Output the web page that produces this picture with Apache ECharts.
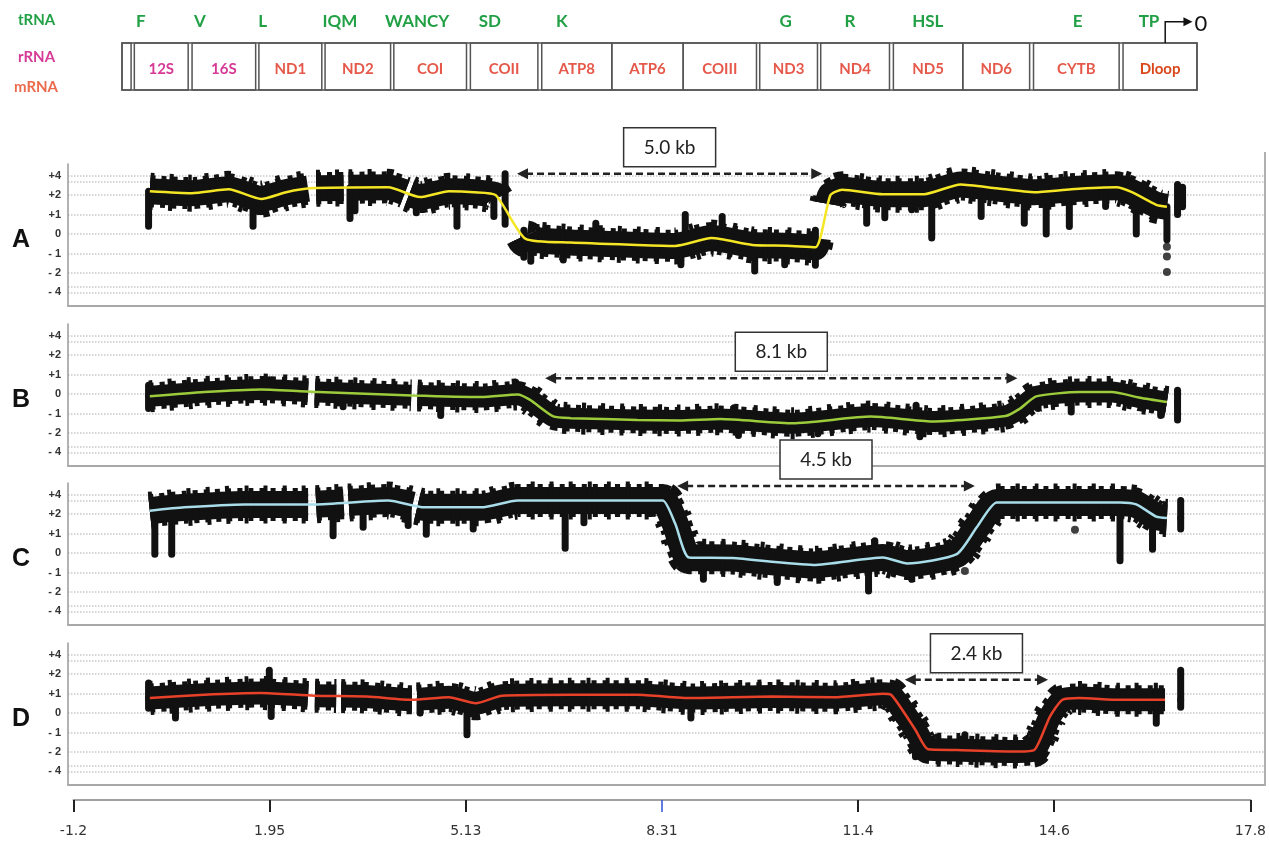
<!DOCTYPE html>
<html>
<head>
<meta charset="utf-8">
<title>mtDNA deletion coverage</title>
<script src="https://cdn.jsdelivr.net/npm/echarts@6/dist/echarts.min.js"></script>
<style>
html, body { margin: 0; padding: 0; background: #fff; }
#chart { width: 1269px; height: 843px; }
</style>
</head>
<body>
<div id="chart"></div>
<script>
// ---- gene map (kb) ----
const geneName = ['', '12S', '16S', 'ND1', 'ND2', 'COI', 'COII', 'ATP8', 'ATP6', 'COIII', 'ND3', 'ND4', 'ND5', 'ND6', 'CYTB', 'Dloop'];
const geneType = ['', 'r', 'r', 'm', 'm', 'm', 'm', 'm', 'm', 'm', 'm', 'm', 'm', 'm', 'm', 'd'];
const geneStart = [0, 0.19, 1.08, 2.11, 3.13, 4.19, 5.37, 6.47, 7.55, 8.65, 9.83, 10.77, 11.89, 12.96, 14.05, 15.43];
const geneEnd = [0.14, 1.02, 2.06, 3.08, 4.14, 5.31, 6.41, 7.55, 8.65, 9.78, 10.72, 11.83, 12.96, 13.99, 15.37, 16.57];
const trnaName = ['F', 'V', 'L', 'IQM', 'WANCY', 'SD', 'K', 'G', 'R', 'HSL', 'E', 'TP'];
const trnaPos = [0.29, 1.2, 2.17, 3.36, 4.55, 5.67, 6.78, 10.23, 11.22, 12.42, 14.73, 15.83];
const promoter = [16.08, 16.5];

// ---- axes ----
const yTickVals = [4, 2, 1, 0, -1, -2, -4];
const yTickText = ['+4', '+2', '+1', '0', '- 1', '- 2', '- 4'];
const yGridVals = [4, 3.4, 2, 1, 0, -1, -2, -3.4, -4];
const xTickVals = [-1.2, 1.967, 5.133, 8.3, 11.467, 14.633, 17.8];
const xTickText = ['-1.2', '1.95', '5.13', '8.31', '11.4', '14.6', '17.8'];

// ---- panel A ----
const aKb = [0.02, 0.69, 1.28, 1.8, 2.2, 2.58, 3.83, 4.34, 4.8, 5.2, 5.55, 6.03, 6.75, 7.81, 8.42, 9.0, 9.65, 10.2, 10.66, 10.9, 11.09, 11.74, 12.4, 12.98, 13.56, 14.16, 14.75, 15.47, 15.72, 16.11, 16.28];
const aVal = [2.4, 2.2, 2.6, 1.8, 2.3, 2.7, 2.8, 1.9, 2.4, 2.3, 2.0, -0.25, -0.44, -0.56, -0.61, -0.21, -0.56, -0.6, -0.68, 2.0, 2.56, 2.1, 2.1, 3.1, 2.7, 2.3, 2.6, 2.8, 2.3, 1.5, 1.4];
const aGaps = [[2.55, 2.68], [3.12, 3.2], [4.1, 4.17], [5.58, 6.0], [10.7, 10.86]];
const aSpikes = [[0.0, 0.4], [1.67, 0.4], [3.22, 0.8], [3.3, 1.2], [4.28, 1.1], [4.93, 0.4], [5.52, 0.9], [5.7, 4.2], [5.7, 0.5],
  [6.0, -1.2], [6.0, 0.2], [6.11, -1.4], [6.63, -1.33], [7.15, 0.56], [8.51, -1.58], [8.58, 1.0], [9.17, 0.9], [9.69, -1.9],
  [10.17, -1.58], [10.66, -1.6], [10.66, 0.2], [11.48, 0.56], [11.77, 0.84], [12.2, 1.25], [12.52, -0.2], [13.31, 0.9],
  [14.0, 0.56], [14.35, 0.0], [14.72, 0.39], [15.3, 1.42], [15.79, 0.0], [16.28, -0.3], [16.45, 3.1], [16.45, 1.0], [16.53, 2.8]];
const aDots = [[16.28, -0.65], [16.28, -1.15], [16.28, -1.95]];

// ---- panel B ----
const bKb = [0.02, 0.89, 1.8, 2.71, 4.21, 5.32, 5.9, 6.1, 6.47, 6.75, 7.81, 8.48, 9.14, 10.3, 11.55, 12.52, 13.7, 13.93, 14.19, 14.88, 15.4, 15.85, 16.28];
const bVal = [-0.12, 0.1, 0.23, 0.1, -0.07, -0.15, -0.02, -0.3, -1.15, -1.24, -1.33, -1.36, -1.29, -1.5, -1.16, -1.41, -1.13, -0.75, -0.12, 0.1, 0.1, -0.19, -0.41];
const bGaps = [[2.55, 2.66], [4.2, 4.3]];
const bSpikes = [[0.0, -0.75], [0.0, 0.45], [1.93, 0.74], [3.11, -0.65], [4.67, -1.1], [5.87, 0.61], [9.36, -0.7], [9.43, -2.26],
  [10.7, -2.08], [12.27, -0.58], [12.33, -2.4], [14.22, -0.75], [14.75, -0.93], [16.18, -1.1], [16.45, -1.33], [16.45, 0.2]];
const bDots = [];

// ---- panel C ----
const cKb = [0.02, 0.57, 1.54, 2.65, 3.83, 4.41, 5.32, 5.9, 7.81, 8.22, 8.42, 8.64, 9.33, 10.63, 11.74, 12.13, 12.92, 13.24, 13.56, 14.21, 15.53, 15.79, 16.11, 16.28];
const cVal = [2.35, 2.7, 3.0, 3.0, 3.4, 2.7, 2.7, 3.4, 3.4, 3.4, 1.5, -0.23, -0.26, -0.61, -0.23, -0.54, -0.06, 1.32, 3.2, 3.2, 3.2, 3.0, 1.87, 1.8];
const cGaps = [[2.55, 2.68], [3.12, 3.2], [4.22, 4.3]];
const cSpikes = [[0.1, -0.06], [0.37, -0.06], [2.95, 0.89], [3.43, 1.32], [4.15, 1.41], [4.44, 0.97], [5.19, 1.23], [6.66, 0.25],
  [6.96, 1.56], [8.87, -1.35], [10.05, -1.52], [11.51, -1.95], [11.61, 0.63], [12.2, -1.35], [15.53, -0.4], [16.05, 0.2],
  [16.5, 1.23], [16.5, 3.4]];
const cDots = [[13.05, -0.92], [14.81, 1.2]];

// ---- panel D ----
const dKb = [0.02, 0.89, 1.8, 2.65, 3.49, 4.21, 4.8, 5.23, 5.65, 6.75, 7.81, 8.67, 9.98, 10.96, 11.74, 11.87, 12.26, 12.46, 12.92, 13.9, 14.16, 14.41, 14.61, 14.88, 15.53, 16.25];
const dVal = [0.77, 0.94, 1.03, 0.89, 0.85, 0.68, 0.81, 0.5, 0.89, 0.94, 0.94, 0.77, 0.85, 0.81, 0.99, 0.94, -0.87, -1.86, -1.9, -1.98, -1.9, -0.18, 0.68, 0.77, 0.68, 0.68];
const dGaps = [[2.55, 2.66], [3.0, 3.08], [4.22, 4.3]];
const dSpikes = [[0.0, 0.25], [0.0, 1.55], [0.43, -0.26], [1.93, 2.4], [1.96, -0.18], [4.34, 0.0], [5.09, -1.12], [8.67, -0.26],
  [12.0, -0.35], [12.26, -2.5], [13.05, -1.12], [14.29, -2.76], [16.11, -0.52], [16.5, 2.4], [16.5, 0.3]];
const dDots = [];

// ---- deletion spans ----
const spanStart = [5.89, 6.34, 8.45, 12.09];
const spanEnd = [10.77, 13.89, 13.21, 14.38];
const spanLevel = [4.2, 0.81, 4.9, 1.71];
const spanText = ['5.0 kb', '8.1 kb', '4.5 kb', '2.4 kb'];

const panels = [
    { letter: 'A', kb: aKb, val: aVal, gaps: aGaps, spikes: aSpikes, dots: aDots, color: '#f5e625', band: 26 },
    { letter: 'B', kb: bKb, val: bVal, gaps: bGaps, spikes: bSpikes, dots: bDots, color: '#9ccc3c', band: 21 },
    { letter: 'C', kb: cKb, val: cVal, gaps: cGaps, spikes: cSpikes, dots: cDots, color: '#a9dde9', band: 27 },
    { letter: 'D', kb: dKb, val: dVal, gaps: dGaps, spikes: dSpikes, dots: dDots, color: '#e8412a', band: 23 }
]
const panelTop = [164, 324, 483, 643]

// labels +4/+2/+1/0/-1/-2/-4 are equally spaced: squash |v|>2
function toAxis(v) {
    const a = Math.abs(v)
    return Math.sign(v) * (a <= 2 ? a : 2 + (a - 2) / 2)
}
function interp(xs, ys, x) {
    if (x <= xs[0]) return ys[0]
    for (let i = 1; i < xs.length; i++) {
        if (x <= xs[i]) {
            const t = (x - xs[i - 1]) / (xs[i] - xs[i - 1])
            return ys[i - 1] + t * (ys[i] - ys[i - 1])
        }
    }
    return ys[ys.length - 1]
}
// thick band broken where reads are missing
function bandLine(xs, ys, gaps) {
    let pts = xs.map((x, i) => [x, ys[i]])
    gaps.forEach(g => {
        pts = pts.filter(p => p[0] < g[0] || p[0] > g[1])
        pts.push([g[0], interp(xs, ys, g[0])], [(g[0] + g[1]) / 2, '-'], [g[1], interp(xs, ys, g[1])])
    })
    pts.sort((p, q) => p[0] - q[0])
    return pts
}

const chart = echarts.init(document.getElementById('chart'))

const grids = [{ left: 122, right: 72, top: 43, height: 47 }]
panelTop.forEach(t => grids.push({ left: 68, right: 4, top: t, height: 142 }))
grids.push({ left: 73.5, right: 7, top: 790, height: 10 })

const xAxes = [{ gridIndex: 0, type: 'value', min: 0, max: 16.57, show: false }]
const yAxes = [{ gridIndex: 0, type: 'value', min: 0, max: 1, show: false }]
const series = []
const graphics = []

// gene map
series.push({
    type: 'custom', xAxisIndex: 0, yAxisIndex: 0, silent: true,
    data: [[0, 16.57]],
    renderItem: (params, api) => {
        const p0 = api.coord([api.value(0), 0]), p1 = api.coord([api.value(1), 1])
        return { type: 'rect', shape: { x: p0[0], y: p1[1], width: p1[0] - p0[0], height: p0[1] - p1[1] },
            style: { fill: 'none', stroke: '#555', lineWidth: 1.5 } }
    }
})
series.push({
    type: 'custom', xAxisIndex: 0, yAxisIndex: 0, silent: true,
    data: geneStart.map((s, i) => [s, geneEnd[i]]),
    renderItem: (params, api) => {
        const i = params.dataIndex
        const p0 = api.coord([api.value(0), 0]), p1 = api.coord([api.value(1), 1])
        const t = geneType[i]
        return { type: 'group', children: [
            { type: 'rect', shape: { x: p0[0], y: p1[1], width: p1[0] - p0[0], height: p0[1] - p1[1] },
                style: { fill: 'none', stroke: '#555', lineWidth: 1.5 } },
            { type: 'text', x: (p0[0] + p1[0]) / 2, y: (p0[1] + p1[1]) / 2 + 3,
                style: { text: geneName[i], align: 'center', verticalAlign: 'middle',
                    fill: t === 'r' ? '#d63a95' : (t === 'd' ? '#d9481a' : '#e5584a'),
                    font: 'bold 15px Lato' } }
        ] }
    }
})
series.push({
    type: 'custom', xAxisIndex: 0, yAxisIndex: 0, silent: true,
    data: trnaPos.map(x => [x]),
    renderItem: (params, api) => {
        const p = api.coord([api.value(0), 1.45])
        return { type: 'text', x: p[0], y: p[1],
            style: { text: trnaName[params.dataIndex], align: 'center', verticalAlign: 'middle', fill: '#22a046', font: 'bold 17px Lato' } }
    }
})
series.push({
    type: 'custom', xAxisIndex: 0, yAxisIndex: 0, silent: true,
    data: [promoter],
    renderItem: (params, api) => {
        const a = api.coord([api.value(0), 1]), b = api.coord([api.value(0), 1.45]), c = api.coord([api.value(1), 1.45])
        return { type: 'group', children: [
            { type: 'polyline', shape: { points: [a, b, [c[0] - 8, c[1]]] }, style: { stroke: '#111', lineWidth: 1.5, fill: 'none' } },
            { type: 'polygon', shape: { points: [[c[0], c[1]], [c[0] - 9, c[1] - 4.5], [c[0] - 9, c[1] + 4.5]] }, style: { fill: '#111' } },
            { type: 'text', x: c[0] + 2, y: c[1] + 2, style: { text: '0', fill: '#111', font: '22px Lato', verticalAlign: 'middle' } }
        ] }
    }
})

panels.forEach((p, i) => {
    const gi = i + 1
    xAxes.push({ gridIndex: gi, type: 'value', min: -1.288, max: 17.848,
        axisLine: { show: true, onZero: false, lineStyle: { color: '#a8a8a8', width: 2 } },
        axisTick: { show: false }, axisLabel: { show: false }, splitLine: { show: false } })
    yAxes.push({ gridIndex: gi, type: 'value', min: -3.7, max: 3.6,
        axisLine: { show: true, onZero: false, lineStyle: { color: '#9a9a9a', width: 1.5 } },
        axisTick: { show: false, customValues: yGridVals.map(toAxis) },
        axisLabel: { customValues: yTickVals.map(toAxis), margin: 7, color: '#333', fontSize: 11, fontWeight: 'bold',
            fontFamily: 'Liberation Sans',
            formatter: v => yTickText[yTickVals.findIndex(t => Math.abs(toAxis(t) - v) < 1e-6)] },
        splitLine: { show: true, lineStyle: { color: '#c8c8c8', type: 'dotted', width: 1.5 } } })

    const av = p.val.map(toAxis)
    const band = bandLine(p.kb, av, p.gaps)
    // solid core plus two dashed layers to give the read cloud a ragged edge
    series.push({
        type: 'line', xAxisIndex: gi, yAxisIndex: gi, silent: true, symbol: 'none', z: 2, smooth: 0.2,
        data: band,
        lineStyle: { color: '#111', width: p.band, cap: 'butt', join: 'round' }
    })
    series.push({
        type: 'line', xAxisIndex: gi, yAxisIndex: gi, silent: true, symbol: 'none', z: 2, smooth: 0.2,
        data: band,
        lineStyle: { color: '#111', width: p.band + 6, cap: 'butt', join: 'round', type: [5, 6] }
    })
    series.push({
        type: 'line', xAxisIndex: gi, yAxisIndex: gi, silent: true, symbol: 'none', z: 2, smooth: 0.2,
        data: band,
        lineStyle: { color: '#111', width: p.band + 11, cap: 'butt', join: 'round', type: [4, 15] }
    })
    series.push({
        type: 'custom', xAxisIndex: gi, yAxisIndex: gi, silent: true, z: 2,
        data: p.spikes.map(s => [s[0], interp(p.kb, av, s[0]), toAxis(s[1])]),
        encode: { x: 0, y: [1, 2] },
        renderItem: (params, api) => {
            const a = api.coord([api.value(0), api.value(1)]), b = api.coord([api.value(0), api.value(2)])
            return { type: 'line', shape: { x1: a[0], y1: a[1], x2: b[0], y2: b[1] },
                style: { stroke: '#111', lineWidth: 7, lineCap: 'round' } }
        }
    })
    series.push({
        type: 'scatter', xAxisIndex: gi, yAxisIndex: gi, silent: true, z: 2, symbolSize: 8,
        itemStyle: { color: '#111' },
        data: p.dots.map(d => [d[0], toAxis(d[1])])
    })
    series.push({
        type: 'line', xAxisIndex: gi, yAxisIndex: gi, silent: true, symbol: 'none', z: 3, smooth: 0.2,
        data: p.kb.map((x, k) => [x, av[k]]),
        lineStyle: { color: p.color, width: 2.5 }
    })
    series.push({
        type: 'custom', xAxisIndex: gi, yAxisIndex: gi, silent: true, z: 4,
        data: [[spanStart[i], spanEnd[i], toAxis(spanLevel[i])]],
        renderItem: (params, api) => {
            const a = api.coord([api.value(0), api.value(2)]), b = api.coord([api.value(1), api.value(2)])
            const mid = (a[0] + b[0]) / 2
            return { type: 'group', children: [
                { type: 'line', shape: { x1: a[0] + 9, y1: a[1], x2: b[0] - 9, y2: b[1] },
                    style: { stroke: '#222', lineWidth: 2.5, lineDash: [7, 4] } },
                { type: 'polygon', shape: { points: [[a[0], a[1]], [a[0] + 11, a[1] - 5.5], [a[0] + 11, a[1] + 5.5]] }, style: { fill: '#222' } },
                { type: 'polygon', shape: { points: [[b[0], b[1]], [b[0] - 11, b[1] - 5.5], [b[0] - 11, b[1] + 5.5]] }, style: { fill: '#222' } },
                { type: 'rect', shape: { x: mid - 46, y: a[1] - 46, width: 92, height: 39 },
                    style: { fill: '#fff', stroke: '#333', lineWidth: 1.5 } },
                { type: 'text', x: mid, y: a[1] - 26,
                    style: { text: spanText[i], align: 'center', verticalAlign: 'middle', fill: '#222', font: '19px Lato' } }
            ] }
        }
    })
    graphics.push({ type: 'text', left: 12, top: panelTop[i] + 64,
        style: { text: p.letter, fill: '#111', font: 'bold 25px Liberation Sans' } })
})

// bottom kb axis
xAxes.push({ gridIndex: 5, type: 'value', min: -1.2, max: 17.8, position: 'bottom',
    axisLine: { show: true, onZero: false, lineStyle: { color: '#a0a0a0', width: 2 } },
    axisTick: { show: true, length: 12, customValues: xTickVals.filter(v => v !== 8.3), lineStyle: { color: '#222', width: 2 } },
    axisLabel: { customValues: xTickVals, margin: 24, fontSize: 14, color: '#333', fontFamily: 'DejaVu Sans',
        formatter: v => xTickText[xTickVals.findIndex(t => Math.abs(t - v) < 1e-6)] },
    splitLine: { show: false } })
xAxes.push({ gridIndex: 5, type: 'value', min: -1.2, max: 17.8, position: 'bottom',
    axisLine: { show: false }, axisLabel: { show: false }, splitLine: { show: false },
    axisTick: { show: true, length: 12, customValues: [8.3], lineStyle: { color: '#2d4fd6', width: 1.5 } } })
yAxes.push({ gridIndex: 5, type: 'value', show: false })

// row labels + right frame
graphics.push(
    { type: 'text', left: 18, top: 13, style: { text: 'tRNA', fill: '#22a046', font: 'bold 15px Lato' } },
    { type: 'text', left: 18, top: 50, style: { text: 'rRNA', fill: '#d63a95', font: 'bold 15px Lato' } },
    { type: 'text', left: 14, top: 80, style: { text: 'mRNA', fill: '#ec6a4c', font: 'bold 15px Lato' } },
    { type: 'line', shape: { x1: 1265, y1: 152, x2: 1265, y2: 785 }, style: { stroke: '#b0b0b0', lineWidth: 2 } }
)

chart.setOption({
    backgroundColor: '#fff',
    animation: false,
    grid: grids,
    xAxis: xAxes,
    yAxis: yAxes,
    series: series,
    graphic: graphics
})
</script>
</body>
</html>
